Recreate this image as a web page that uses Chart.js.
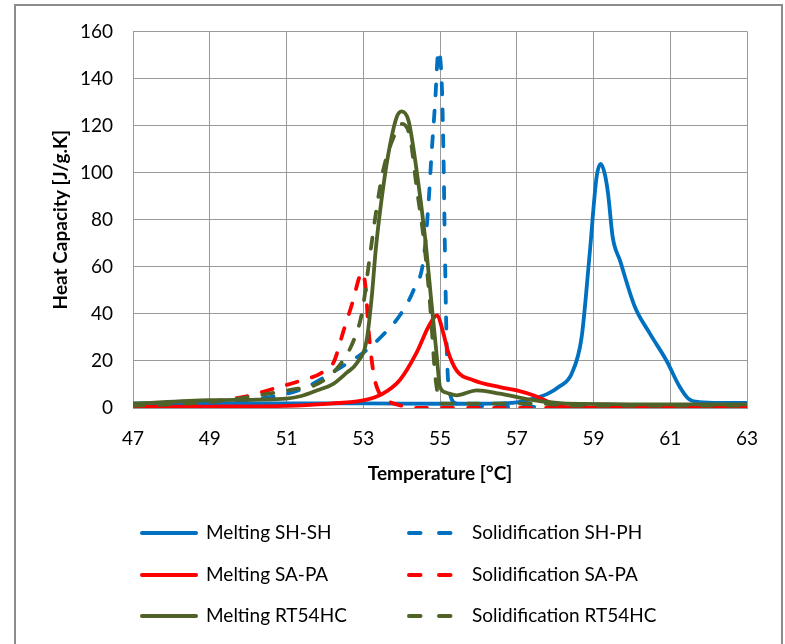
<!DOCTYPE html>
<html>
<head>
<meta charset="utf-8">
<script src="https://cdn.jsdelivr.net/npm/chart.js@4.4.1/dist/chart.umd.min.js"></script>
<style>
  html, body { margin: 0; padding: 0; background: #fff; }
  #c { display: block; }
</style>
</head>
<body>
<canvas id="c" width="785" height="644"></canvas>
<script>
// ---- Data ----
const xTickLabels = [47, 49, 51, 53, 55, 57, 59, 61, 63];
const yTickLabels = [0, 20, 40, 60, 80, 100, 120, 140, 160];

const seriesNames = [
  'Melting SH-SH', 'Solidification SH-PH',
  'Melting SA-PA', 'Solidification SA-PA',
  'Melting RT54HC', 'Solidification RT54HC'
];

// Melting SH-SH
const meltSHSH_T = [47, 49, 51, 53, 55, 56, 56.6, 57, 57.43, 57.8, 58.1, 58.43, 58.69, 58.9, 59.08, 59.19, 59.3, 59.38, 59.5, 59.69, 60.08, 60.47, 60.9, 61.25, 61.47, 61.76, 62.3, 63];
const meltSHSH_V = [2, 2, 2, 2, 1.8, 1.8, 2, 2.4, 4, 6, 9, 14.6, 30, 65.5, 98, 103.7, 99, 91, 72.6, 62.7, 42.9, 31.6, 20.2, 8.9, 4, 2.5, 2.2, 2.2];

// Solidification SH-PH
const solSHPH_T = [47, 48.5, 50, 51, 51.53, 52.23, 53.0, 53.48, 53.96, 54.31, 54.57, 54.7, 54.78, 54.87, 54.96, 55.05, 55.09, 55.13, 55.18, 55.26, 55.43, 56, 58, 63];
const solSHPH_V = [1, 1.5, 3.5, 6, 9, 15.5, 23.5, 30.5, 39.5, 50, 63, 86.8, 108, 129, 151.8, 136, 108, 65.5, 23, 6, 1.9, 0.8, 0.5, 0.5];

// Melting SA-PA
const meltSAPA_T = [47, 49, 51, 52.14, 53.0, 53.5, 53.96, 54.39, 54.7, 54.92, 55.09, 55.2, 55.43, 55.87, 56.56, 57.0, 57.43, 57.84, 58.13, 59, 63];
const meltSAPA_V = [0.5, 0.6, 0.9, 1.9, 3.2, 6, 12, 23.5, 34.5, 39.3, 31.6, 24.5, 16, 11.8, 8.9, 7.5, 5.4, 2.5, 0.6, 0.2, 0.2];

// Solidification SA-PA
const solSAPA_T = [47, 48.5, 49.88, 50.66, 51.45, 51.88, 52.23, 52.49, 52.71, 52.93, 52.97, 53.06, 53.14, 53.27, 53.4, 53.61, 53.96, 54.5, 63];
const solSAPA_V = [0.8, 2, 4.7, 8.2, 12, 14.6, 19.5, 33, 44.3, 57, 57.7, 51.4, 33, 14.6, 7, 3.3, 1.1, 0, 0];

// Melting RT54HC
const meltRT_T = [47, 49, 51, 51.36, 51.8, 52.23, 52.57, 52.83, 53.09, 53.22, 53.33, 53.52, 53.7, 53.87, 54.0, 54.18, 54.39, 54.61, 54.78, 54.91, 55.0, 55.17, 55.43, 55.96, 56.56, 57.43, 58.3, 63];
const meltRT_V = [1.8, 3.3, 4, 5, 7.5, 10.4, 15, 19, 29, 47, 68, 93.8, 112, 123.5, 126, 122, 101, 72.6, 44.3, 23, 9, 6.5, 5.4, 7.5, 6.1, 3.3, 1.9, 1.5];

// Solidification RT54HC
const solRT_T = [47, 48.5, 49.53, 50.5, 51.3, 51.62, 52.31, 52.75, 52.97, 53.18, 53.35, 53.52, 53.79, 54.0, 54.22, 54.39, 54.57, 54.74, 54.87, 54.96, 55.05, 56, 57.5, 58.5, 63];
const solRT_V = [1, 2, 3.5, 6, 8.2, 8.9, 16.7, 28.7, 40.7, 65.5, 85, 101, 115, 120.7, 115, 93.8, 72.6, 44.3, 14.6, 4.7, 1.9, 1.9, 1.9, 1, 1];

const seriesT = [meltSHSH_T, solSHPH_T, meltSAPA_T, solSAPA_T, meltRT_T, solRT_T];
const seriesV = [meltSHSH_V, solSHPH_V, meltSAPA_V, solSAPA_V, meltRT_V, solRT_V];

// ---- Styles ----
const colors = ['#0070C0', '#0070C0', '#FF0000', '#FF0000', '#4F6228', '#4F6228'];
const dashed = [false, true, false, true, false, true];
const DASH = [11, 15];
const FONT = 'Lato, "Noto Sans", sans-serif';
const TEXT_COLOR = '#000';
const GRID_COLOR = '#9a9a9a';

const datasets = seriesNames.map((name, i) => ({
  label: name,
  data: seriesT[i].map((t, k) => ({ x: t, y: seriesV[i][k] })),
  borderColor: colors[i],
  backgroundColor: colors[i],
  borderWidth: 3.8,
  borderDash: dashed[i] ? DASH : [],
  borderCapStyle: dashed[i] ? 'round' : 'butt',
  borderJoinStyle: 'round',
  cubicInterpolationMode: 'monotone',
  pointRadius: 0,
  fill: false,
  order: seriesNames.length - i
}));

const frameAndLegend = {
  id: 'frameAndLegend',
  beforeDraw(chart) {
    const ctx = chart.ctx;
    ctx.save();
    ctx.fillStyle = '#fff';
    ctx.fillRect(0, 0, chart.width, chart.height);
    ctx.restore();
  },
  afterDraw(chart) {
    const ctx = chart.ctx;
    ctx.save();
    // outer frame
    ctx.strokeStyle = '#8c8c8c';
    ctx.lineWidth = 2;
    ctx.strokeRect(15, 5, 767, 660);
    // legend: 3 rows x 2 columns
    const colLineX = [140, 407];
    const colTextX = [206, 472];
    const rowY = [533, 575, 616];
    ctx.font = '19px ' + FONT;
    ctx.textBaseline = 'middle';
    ctx.textAlign = 'left';
    chart.data.datasets.forEach((ds, i) => {
      const col = i % 2, row = Math.floor(i / 2);
      const y = rowY[row];
      ctx.strokeStyle = ds.borderColor;
      ctx.lineWidth = 4;
      ctx.lineCap = 'round';
      ctx.beginPath();
      if (dashed[i]) {
        ctx.setLineDash([11.5, 18.5]);
        ctx.moveTo(colLineX[col] + 2, y);
        ctx.lineTo(colLineX[col] + 45, y);
      } else {
        ctx.setLineDash([]);
        ctx.moveTo(colLineX[col] + 2, y);
        ctx.lineTo(colLineX[col] + 56, y);
      }
      ctx.stroke();
      ctx.setLineDash([]);
      ctx.fillStyle = TEXT_COLOR;
      ctx.fillText(ds.label, colTextX[col], y);
    });
    ctx.restore();
  }
};

new Chart(document.getElementById('c'), {
  type: 'line',
  data: { datasets },
  options: {
    responsive: false,
    animation: false,
    events: [],
    layout: { padding: { left: 0, right: 38, top: 31, bottom: 156 } },
    plugins: { legend: { display: false }, tooltip: { enabled: false } },
    scales: {
      x: {
        type: 'linear',
        min: xTickLabels[0],
        max: xTickLabels[xTickLabels.length - 1],
        afterBuildTicks: s => { s.ticks = xTickLabels.map(v => ({ value: v })); },
        afterFit: s => { s.height = 80; },
        grid: { color: GRID_COLOR, lineWidth: 1, drawTicks: false },
        border: { color: GRID_COLOR, width: 1 },
        ticks: { color: TEXT_COLOR, font: { family: FONT, size: 19 }, padding: 19, maxRotation: 0 },
        title: { display: true, text: 'Temperature [°C]', color: TEXT_COLOR,
                 font: { family: FONT, size: 19, weight: 'bold' }, padding: { top: 0, bottom: 3 } }
      },
      y: {
        type: 'linear',
        min: yTickLabels[0],
        max: yTickLabels[yTickLabels.length - 1],
        afterBuildTicks: s => { s.ticks = yTickLabels.map(v => ({ value: v })); },
        afterFit: s => { s.width = 133; },
        grid: { color: GRID_COLOR, lineWidth: 1, drawTicks: false },
        border: { color: GRID_COLOR, width: 1 },
        ticks: { color: TEXT_COLOR, font: { family: FONT, size: 19 }, padding: 20 },
        title: { display: true, text: 'Heat Capacity [J/g.K]', color: TEXT_COLOR,
                 font: { family: FONT, size: 19, weight: 'bold' }, padding: { top: 49, bottom: 0 } }
      }
    }
  },
  plugins: [frameAndLegend]
});
</script>
</body>
</html>
